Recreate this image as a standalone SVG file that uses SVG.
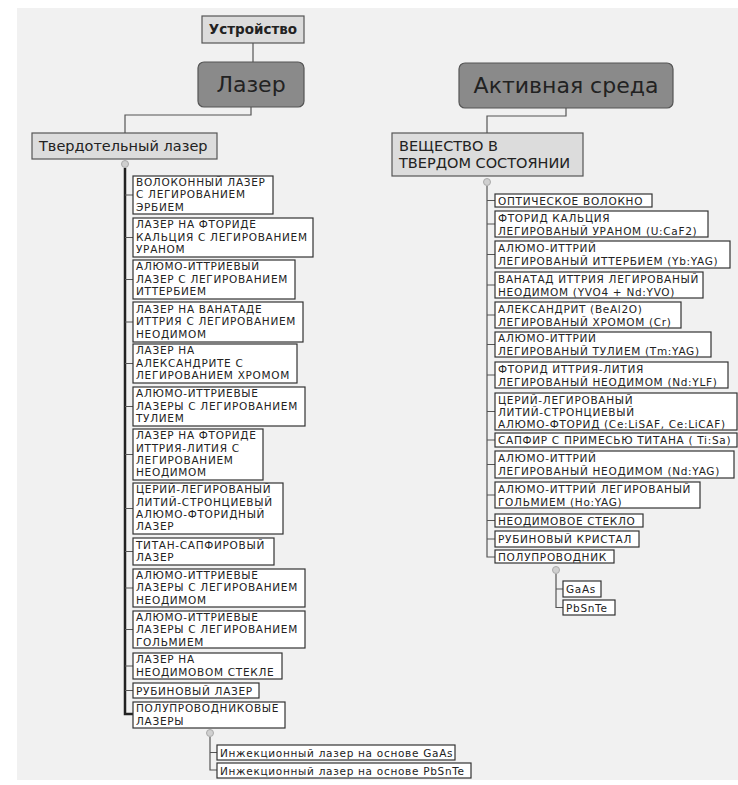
<svg xmlns="http://www.w3.org/2000/svg" width="738" height="785" viewBox="0 0 738 785">
<style>
text{font-family:"DejaVu Sans","Liberation Sans",sans-serif;fill:#222}
.b{fill:#fff;stroke:#333;stroke-width:1.2}
.h{fill:#dcdcdc;stroke:#555;stroke-width:1.2}
.r{fill:#8a8a8a;stroke:#555;stroke-width:1.2}
.t{font-size:10.5px;letter-spacing:0.7px}
.c{fill:none;stroke:#555;stroke-width:1.2}
.k{fill:none;stroke:#222;stroke-width:2.5}
.o{fill:#d0d0d0;stroke:#aaa;stroke-width:1}
</style>
<rect x="0" y="0" width="738" height="785" fill="#fff"/>
<rect x="17" y="8" width="721" height="772" fill="#f1f1f1"/>

<g id="connectors">
<path class="c" d="M253 43V62"/>
<path class="c" d="M251 107V115H125V133"/>
<path class="c" d="M566 108V116H487V133"/>
<path class="k" d="M125 168V714H133"/>
<path class="c" d="M125 195H133M125 237.5H133M125 279.5H133M125 322H133M125 363.5H133M125 406.5H133M125 454.5H133M125 508.5H133M125 551.5H133M125 588H133M125 629.5H133M125 666H133M125 690.5H133"/>
<path class="c" d="M487 186V557H495M487 200.5H495M487 224H495M487 254.5H495M487 285H495M487 315H495M487 344.5H495M487 375H495M487 411.5H495M487 440H495M487 464.5H495M487 495H495M487 520.5H495M487 539H495"/>
<path class="c" d="M210 737V770H217M210 752.5H217"/>
<path class="c" d="M556 574V607.5H563M556 589H563"/>
<circle class="o" cx="125" cy="164" r="3.5"/>
<circle class="o" cx="487" cy="182" r="3.5"/>
<circle class="o" cx="210" cy="733" r="3.5"/>
<circle class="o" cx="556" cy="570" r="3.5"/>
</g>

<g id="ustroystvo"><rect class="h" x="202" y="16" width="102" height="27"/><text x="253" y="34" font-size="13.5" font-weight="bold" text-anchor="middle">Устройство</text></g>
<g id="lazer"><rect class="r" x="198" y="62" width="106" height="45" rx="6"/><text x="251" y="92" font-size="22" text-anchor="middle" fill="#333">Лазер</text></g>
<g id="aktivnaya"><rect class="r" x="459" y="63" width="214" height="45" rx="6"/><text x="566" y="93" font-size="22" text-anchor="middle" fill="#333">Активная среда</text></g>
<g id="tverdotelny"><rect class="h" x="32" y="133" width="185" height="26"/><text x="39" y="151" font-size="14.5">Твердотельный лазер</text></g>
<g id="veshchestvo"><rect class="h" x="392" y="133" width="191" height="43"/><text x="399" y="151" font-size="14.5">ВЕЩЕСТВО В</text><text x="399" y="168" font-size="14.5">ТВЕРДОМ СОСТОЯНИИ</text></g>

<g id="l1"><rect class="b" x="133" y="176" width="140" height="38"/><text class="t" x="136" y="186">ВОЛОКОННЫЙ ЛАЗЕР</text><text class="t" x="136" y="198.4">С ЛЕГИРОВАНИЕМ</text><text class="t" x="136" y="210.8">ЭРБИЕМ</text></g>
<g id="l2"><rect class="b" x="133" y="218" width="180" height="39"/><text class="t" x="136" y="228.4">ЛАЗЕР НА ФТОРИДЕ</text><text class="t" x="136" y="240.8">КАЛЬЦИЯ С ЛЕГИРОВАНИЕМ</text><text class="t" x="136" y="253.2">УРАНОМ</text></g>
<g id="l3"><rect class="b" x="133" y="260" width="162" height="39"/><text class="t" x="136" y="270.4">АЛЮМО-ИТТРИЕВЫЙ</text><text class="t" x="136" y="282.8">ЛАЗЕР С ЛЕГИРОВАНИЕМ</text><text class="t" x="136" y="295.2">ИТТЕРБИЕМ</text></g>
<g id="l4"><rect class="b" x="133" y="302" width="170" height="40"/><text class="t" x="136" y="312.9">ЛАЗЕР НА ВАНАТАДЕ</text><text class="t" x="136" y="325.3">ИТТРИЯ С ЛЕГИРОВАНИЕМ</text><text class="t" x="136" y="337.7">НЕОДИМОМ</text></g>
<g id="l5"><rect class="b" x="133" y="344" width="164" height="39"/><text class="t" x="136" y="354.4">ЛАЗЕР НА</text><text class="t" x="136" y="366.8">АЛЕКСАНДРИТЕ С</text><text class="t" x="136" y="379.2">ЛЕГИРОВАНИЕМ ХРОМОМ</text></g>
<g id="l6"><rect class="b" x="133" y="387" width="172" height="39"/><text class="t" x="136" y="397.4">АЛЮМО-ИТТРИЕВЫЕ</text><text class="t" x="136" y="409.8">ЛАЗЕРЫ С ЛЕГИРОВАНИЕМ</text><text class="t" x="136" y="422.2">ТУЛИЕМ</text></g>
<g id="l7"><rect class="b" x="133" y="429" width="130" height="51"/><text class="t" x="136" y="439.2">ЛАЗЕР НА ФТОРИДЕ</text><text class="t" x="136" y="451.6">ИТТРИЯ-ЛИТИЯ С</text><text class="t" x="136" y="464">ЛЕГИРОВАНИЕМ</text><text class="t" x="136" y="476.4">НЕОДИМОМ</text></g>
<g id="l8"><rect class="b" x="133" y="483" width="150" height="51"/><text class="t" x="136" y="493.2">ЦЕРИЙ-ЛЕГИРОВАНЫЙ</text><text class="t" x="136" y="505.6">ЛИТИЙ-СТРОНЦИЕВЫЙ</text><text class="t" x="136" y="518">АЛЮМО-ФТОРИДНЫЙ</text><text class="t" x="136" y="530.4">ЛАЗЕР</text></g>
<g id="l9"><rect class="b" x="133" y="538" width="141" height="27"/><text class="t" x="136" y="548.6">ТИТАН-САПФИРОВЫЙ</text><text class="t" x="136" y="561">ЛАЗЕР</text></g>
<g id="l10"><rect class="b" x="133" y="569" width="172" height="38"/><text class="t" x="136" y="579">АЛЮМО-ИТТРИЕВЫЕ</text><text class="t" x="136" y="591.4">ЛАЗЕРЫ С ЛЕГИРОВАНИЕМ</text><text class="t" x="136" y="603.8">НЕОДИМОМ</text></g>
<g id="l11"><rect class="b" x="133" y="611" width="172" height="37"/><text class="t" x="136" y="620.7">АЛЮМО-ИТТРИЕВЫЕ</text><text class="t" x="136" y="633.1">ЛАЗЕРЫ С ЛЕГИРОВАНИЕМ</text><text class="t" x="136" y="645.5">ГОЛЬМИЕМ</text></g>
<g id="l12"><rect class="b" x="133" y="653" width="149" height="26"/><text class="t" x="136" y="663.1">ЛАЗЕР НА</text><text class="t" x="136" y="675.5">НЕОДИМОВОМ СТЕКЛЕ</text></g>
<g id="l13"><rect class="b" x="133" y="683" width="126" height="15"/><text class="t" x="136" y="694.5">РУБИНОВЫЙ ЛАЗЕР</text></g>
<g id="l14"><rect class="b" x="133" y="702" width="152" height="26"/><text class="t" x="136" y="712.1">ПОЛУПРОВОДНИКОВЫЕ</text><text class="t" x="136" y="724.5">ЛАЗЕРЫ</text></g>
<g id="l14a"><rect class="b" x="217" y="745" width="238" height="15"/><text class="t" x="220" y="756.5">Инжекционный лазер на основе GaAs</text></g>
<g id="l14b"><rect class="b" x="217" y="763" width="254" height="15"/><text class="t" x="220" y="774.5">Инжекционный лазер на основе PbSnTe</text></g>

<g id="r1"><rect class="b" x="495" y="194" width="157" height="13"/><text class="t" x="498" y="204.5">ОПТИЧЕСКОЕ ВОЛОКНО</text></g>
<g id="r2"><rect class="b" x="495" y="211" width="213" height="26"/><text class="t" x="498" y="221.5">ФТОРИД КАЛЬЦИЯ</text><text class="t" x="498" y="234.5">ЛЕГИРОВАНЫЙ УРАНОМ (U:CaF2)</text></g>
<g id="r3"><rect class="b" x="495" y="241" width="235" height="27"/><text class="t" x="498" y="252">АЛЮМО-ИТТРИЙ</text><text class="t" x="498" y="265">ЛЕГИРОВАНЫЙ ИТТЕРБИЕМ (Yb:YAG)</text></g>
<g id="r4"><rect class="b" x="495" y="272" width="208" height="26"/><text class="t" x="498" y="282.5">ВАНАТАД ИТТРИЯ ЛЕГИРОВАНЫЙ</text><text class="t" x="498" y="295.5">НЕОДИМОМ (YVO4 + Nd:YVO)</text></g>
<g id="r5"><rect class="b" x="495" y="302" width="186" height="26"/><text class="t" x="498" y="312.5">АЛЕКСАНДРИТ (BeAl2O)</text><text class="t" x="498" y="325.5">ЛЕГИРОВАНЫЙ ХРОМОМ (Cr)</text></g>
<g id="r6"><rect class="b" x="495" y="332" width="216" height="25"/><text class="t" x="498" y="342">АЛЮМО-ИТТРИЙ</text><text class="t" x="498" y="355">ЛЕГИРОВАНЫЙ ТУЛИЕМ (Tm:YAG)</text></g>
<g id="r7"><rect class="b" x="495" y="362" width="233" height="26"/><text class="t" x="498" y="372.5">ФТОРИД ИТТРИЯ-ЛИТИЯ</text><text class="t" x="498" y="385.5">ЛЕГИРОВАНЫЙ НЕОДИМОМ (Nd:YLF)</text></g>
<g id="r8"><rect class="b" x="495" y="393" width="242" height="37"/><text class="t" x="498" y="403.5">ЦЕРИЙ-ЛЕГИРОВАНЫЙ</text><text class="t" x="498" y="415.8">ЛИТИЙ-СТРОНЦИЕВЫЙ</text><text class="t" x="498" y="428.1">АЛЮМО-ФТОРИД (Ce:LiSAF, Ce:LiCAF)</text></g>
<g id="r9"><rect class="b" x="495" y="433" width="242" height="14"/><text class="t" x="498" y="444">САПФИР С ПРИМЕСЬЮ ТИТАНА ( Ti:Sa)</text></g>
<g id="r10"><rect class="b" x="495" y="451" width="239" height="27"/><text class="t" x="498" y="462">АЛЮМО-ИТТРИЙ</text><text class="t" x="498" y="475">ЛЕГИРОВАНЫЙ НЕОДИМОМ (Nd:YAG)</text></g>
<g id="r11"><rect class="b" x="495" y="482" width="205" height="26"/><text class="t" x="498" y="492.5">АЛЮМО-ИТТРИЙ ЛЕГИРОВАНЫЙ</text><text class="t" x="498" y="505.5">ГОЛЬМИЕМ (Ho:YAG)</text></g>
<g id="r12"><rect class="b" x="495" y="514" width="148" height="13"/><text class="t" x="498" y="524.5">НЕОДИМОВОЕ СТЕКЛО</text></g>
<g id="r13"><rect class="b" x="495" y="531" width="144" height="16"/><text class="t" x="498" y="543">РУБИНОВЫЙ КРИСТАЛ</text></g>
<g id="r14"><rect class="b" x="495" y="550" width="119" height="13"/><text class="t" x="498" y="560.5">ПОЛУПРОВОДНИК</text></g>
<g id="r14a"><rect class="b" x="563" y="581" width="38" height="16"/><text class="t" x="566" y="593">GaAs</text></g>
<g id="r14b"><rect class="b" x="563" y="600" width="52" height="15"/><text class="t" x="566" y="611.5">PbSnTe</text></g>
</svg>
